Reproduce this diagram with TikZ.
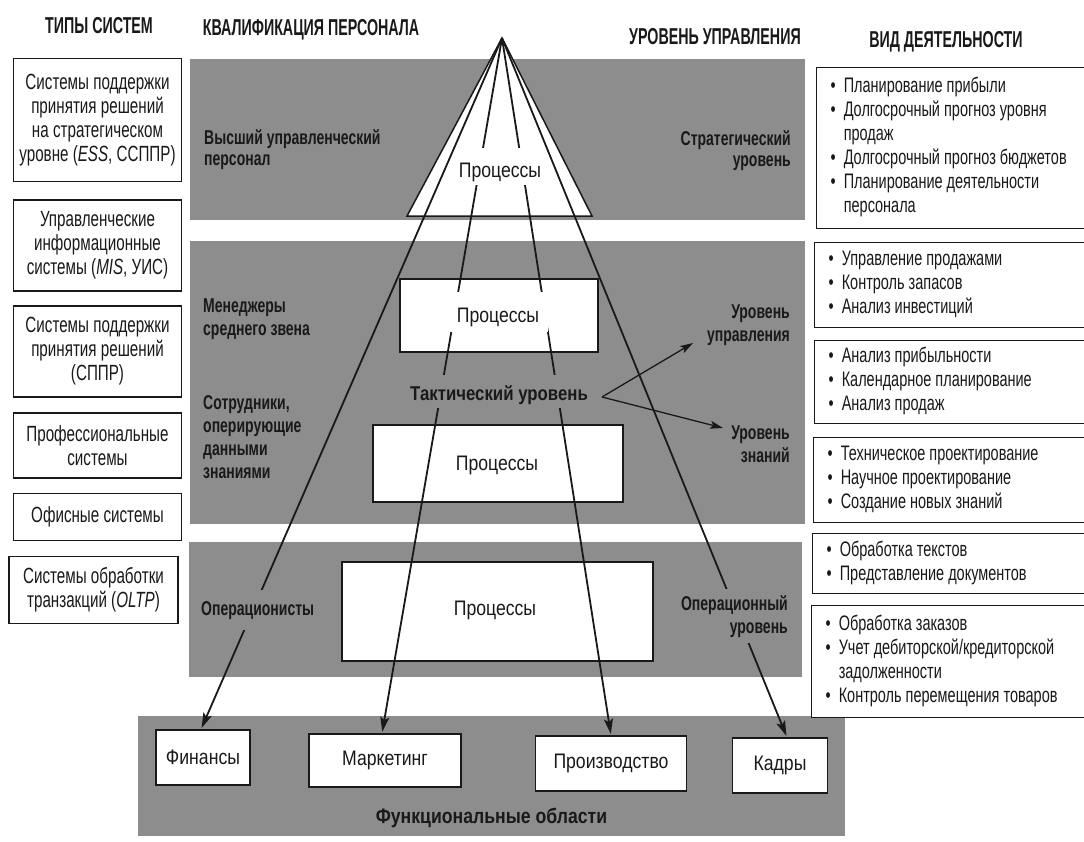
\documentclass[tikz,border=0pt]{standalone}
\usepackage{fontspec}
\setmainfont{Liberation Sans}
\newfontfamily\sidefont[FakeStretch=0.69]{Liberation Sans}
\newfontfamily\hdrfont[FakeStretch=0.62]{Liberation Sans}
\newfontfamily\lblfont[FakeStretch=0.70]{Liberation Sans}
\newfontfamily\cenfont[FakeStretch=0.84]{Liberation Sans}
\usetikzlibrary{arrows.meta}
\definecolor{band}{RGB}{141,141,141}
\definecolor{ink}{RGB}{25,25,25}
\begin{document}
\begin{tikzpicture}[x=1pt,y=-1pt,
  every node/.style={text=ink},
  hdr/.style={font=\hdrfont\bfseries\fontsize{23}{24}\selectfont, inner sep=0pt, anchor=base},
  sysbox/.style={draw=ink, line width=1.3pt, fill=white, align=center, inner sep=0pt,
    font=\sidefont\fontsize{22}{24}\selectfont},
  actbox/.style={draw=ink, line width=1.3pt, fill=white, anchor=north west, inner sep=0pt, minimum width=300pt},
  acttext/.style={anchor=west, inner sep=0pt, font=\sidefont\fontsize{21}{24}\selectfont},
  bandlbl/.style={font=\lblfont\bfseries\fontsize{20}{23}\selectfont, inner sep=0pt},
  procbox/.style={draw=ink, line width=1.3pt, fill=white},
  proclbl/.style={font=\cenfont\fontsize{21}{24}\selectfont, anchor=base, fill=white, inner ysep=0pt, inner xsep=3pt},
  areabox/.style={draw=ink, line width=1.3pt, fill=white, inner sep=0pt, font=\cenfont\fontsize{21}{24}\selectfont},
  link/.style={draw=ink, line width=1.8pt, shorten >=1.5pt, -{Stealth[length=15pt,width=9pt,inset=3pt]}},
  side/.style={draw=ink, line width=1.3pt, -{Stealth[length=13pt,width=8pt,inset=3pt]}},
  edge/.style={draw=ink, line width=1.5pt, line join=miter}
]
\useasboundingbox (0,0) rectangle (1084,841);
\fill[white] (0,0) rectangle (1084,841);
\clip (0,0) rectangle (1084,841);

% column headings
\node[hdr] (h1) at (99,33) {ТИПЫ СИСТЕМ};
\node[hdr] (h2) at (311,35) {КВАЛИФИКАЦИЯ ПЕРСОНАЛА};
\node[hdr] (h3) at (715,44) {УРОВЕНЬ УПРАВЛЕНИЯ};
\node[hdr] (h4) at (946,47) {ВИД ДЕЯТЕЛЬНОСТИ};

% grey level bands
\fill[band] (190,59) rectangle (805,220);
\fill[band] (190,241) rectangle (805,524);
\fill[band] (189,542) rectangle (802,677);
\fill[band] (138,716) rectangle (845,836);

% system types
\node[sysbox, minimum width=168pt, minimum height=123pt] (s1) at (97.5,120) {Системы поддержки\\принятия решений\\на стратегическом\\уровне (\textit{ESS}, ССППР)};
\node[sysbox, minimum width=168pt, minimum height=91pt] (s2) at (97.5,245.5) {Управленческие\\информационные\\системы (\textit{MIS}, УИС)};
\node[sysbox, minimum width=168pt, minimum height=91pt] (s3) at (97.5,351.5) {Системы поддержки\\принятия решений\\(СППР)};
\node[sysbox, minimum width=168pt, minimum height=65pt] (s4) at (97.5,445.5) {Профессиональные\\системы};
\node[sysbox, minimum width=168pt, minimum height=47pt] (s5) at (97.5,517) {Офисные системы};
\node[sysbox, minimum width=169pt, minimum height=67pt] (s6) at (93.5,590) {Системы обработки\\транзакций (\textit{OLTP})};

% kinds of activity
\node[actbox, minimum height=161pt] (a1) at (816,67) {};
\node[acttext] (t1) at ([xshift=14.5pt]a1.west) {\begin{tabular}{@{}l@{\hspace{8pt}}l@{}}
• & Планирование прибыли\\
• & Долгосрочный прогноз уровня\\
  & продаж\\
• & Долгосрочный прогноз бюджетов\\
• & Планирование деятельности\\
  & персонала
\end{tabular}};
\node[actbox, minimum height=85pt] (a2) at (814,242) {};
\node[acttext] (t2) at ([xshift=14.5pt]a2.west) {\begin{tabular}{@{}l@{\hspace{8pt}}l@{}}
• & Управление продажами\\
• & Контроль запасов\\
• & Анализ инвестиций
\end{tabular}};
\node[actbox, minimum height=83pt] (a3) at (814,340) {};
\node[acttext] (t3) at ([xshift=14.5pt]a3.west) {\begin{tabular}{@{}l@{\hspace{8pt}}l@{}}
• & Анализ прибыльности\\
• & Календарное планирование\\
• & Анализ продаж
\end{tabular}};
\node[actbox, minimum height=85pt] (a4) at (813,437) {};
\node[acttext] (t4) at ([xshift=14.5pt]a4.west) {\begin{tabular}{@{}l@{\hspace{8pt}}l@{}}
• & Техническое проектирование\\
• & Научное проектирование\\
• & Создание новых знаний
\end{tabular}};
\node[actbox, minimum height=60pt] (a5) at (812,533) {};
\node[acttext] (t5) at ([xshift=14.5pt]a5.west) {\begin{tabular}{@{}l@{\hspace{8pt}}l@{}}
• & Обработка текстов\\
• & Представление документов
\end{tabular}};
\node[actbox, minimum height=112pt] (a6) at (811,605) {};
\node[acttext] (t6) at ([xshift=14.5pt]a6.west) {\begin{tabular}{@{}l@{\hspace{8pt}}l@{}}
• & Обработка заказов\\
• & Учет дебиторской/кредиторской\\
  & задолженности\\
• & Контроль перемещения товаров
\end{tabular}};

% staff and management levels (base = baseline of the last line)
\node[bandlbl, anchor=base west, align=left, font=\lblfont\bfseries\fontsize{20}{21}\selectfont] (q1) at (204,165) {Высший управленческий\\персонал};
\node[bandlbl, anchor=base east, align=right, font=\lblfont\bfseries\fontsize{20}{21}\selectfont] (l1) at (791,166) {Стратегический\\уровень};
\node[bandlbl, anchor=base west, align=left] (q2) at (203,335) {Менеджеры\\среднего звена};
\node[bandlbl, anchor=base west, align=left] (q3) at (203,478) {Сотрудники,\\оперирующие\\данными\\знаниями};
\node[bandlbl, anchor=base east, align=right] (l2) at (790,341) {Уровень\\управления};
\node[bandlbl, anchor=base east, align=right] (l3) at (790,462) {Уровень\\знаний};

% pyramid and process blocks
\coordinate (apex) at (502,38);
\coordinate (bl) at (407,216);
\coordinate (br) at (592,216);
\draw[edge, fill=white] (apex) -- (bl) -- (br) -- cycle;
\node[procbox, minimum width=198pt, minimum height=73pt] (pa) at (499,315.5) {};
\node[procbox, minimum width=250pt, minimum height=77pt] (pb) at (498,463.5) {};
\node[procbox, minimum width=311pt, minimum height=99pt] (pc) at (497.5,611.5) {};

% functional areas
\node[areabox, minimum width=94pt, minimum height=55pt] (fin) at (203,757.5) {Финансы};
\node[areabox, minimum width=152pt, minimum height=53pt] (mkt) at (385,760.5) {Маркетинг};
\node[areabox, minimum width=151pt, minimum height=55pt] (prd) at (611,763.5) {Производство};
\node[areabox, minimum width=95pt, minimum height=55pt] (hr) at (780,765.5) {Кадры};
\node[font=\cenfont\bfseries\fontsize{21}{24}\selectfont, anchor=base, inner sep=0pt] (fa) at (491.5,823) {Функциональные области};

% inner links from the apex
\draw[link] (apex) -- ([xshift=-3pt]mkt.north);
\draw[link] (apex) -- (prd.north);

% labels cut gaps into the links
\node[proclbl, text height=29pt, text depth=8pt] (p0) at (500,177) {Процессы};
\node[proclbl, text height=30pt, text depth=10pt, inner xsep=9pt] (p1) at (498,322) {Процессы};
\node[proclbl] (p2) at (497,470) {Процессы};
\node[proclbl] (p3) at (495,615) {Процессы};
\node[font=\cenfont\bfseries\fontsize{20}{24}\selectfont, anchor=base, fill=band, inner ysep=0pt, inner xsep=3pt, text height=25pt, text depth=8pt] (takt) at (499,400) {Тактический уровень};

% outer links
\draw[link] (apex) -- ([xshift=-2pt]fin.north);
\draw[link] (apex) -- ([xshift=7pt]hr.north);

\node[bandlbl, anchor=base west, fill=band, text height=25pt, text depth=15pt] (q4) at (201,615) {Операционисты};
\node[bandlbl, anchor=base east, align=right, fill=band, inner ysep=6pt] (l4) at (788,633) {Операционный\\уровень};

% tactical level splits into two
\coordinate (tsrc) at (602,397);
\coordinate (tipU) at (693,343);
\coordinate (tipZ) at (723,428);
\draw[side] (tsrc) -- (tipU);
\draw[side] (tsrc) -- (tipZ);
\end{tikzpicture}
\end{document}
